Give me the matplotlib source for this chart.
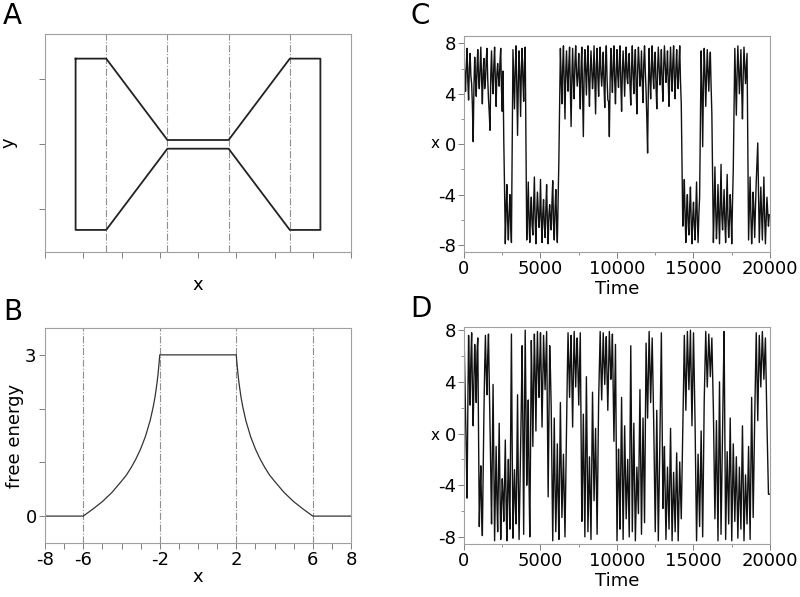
import numpy as np
import matplotlib
matplotlib.use("Agg")
import matplotlib.pyplot as plt

# ---- data ----
# panel A: channel outline (x, y), walls at wide and narrow parts
chan_x = [-8, -6, -2, 2, 6, 8, 8, 6, 2, -2, -6, -8, -8]
chan_y = [6.6, 6.6, 0.33, 0.33, 6.6, 6.6, -6.6, -6.6, -0.34, -0.34, -6.6, -6.6, 6.6]
guide_x = [-6, -2, 2, 6]

# panel B: free energy
fe_x = [-8, -6, -5.5, -5, -4.5, -4, -3.75, -3.5, -3.25, -3, -2.75, -2.5, -2.35, -2.25,
        -2.15, -2.1, -2.05, -2.02, -2,
        2, 2.02, 2.05, 2.1, 2.15, 2.25, 2.35, 2.5, 2.75, 3, 3.25, 3.5, 3.75, 4, 4.5, 5,
        5.5, 6, 8]
fe_y = [0, 0, 0.13, 0.27, 0.44, 0.65, 0.76, 0.90, 1.06, 1.25, 1.48, 1.78, 2.02, 2.21,
        2.46, 2.61, 2.79, 2.91, 3.0,
        3.0, 2.91, 2.79, 2.61, 2.46, 2.21, 2.02, 1.78, 1.48, 1.25, 1.06, 0.90, 0.76, 0.65,
        0.44, 0.27, 0.13, 0, 0]

# panels C and D: trajectories, values at t = 0, 100, ... and at t = 50, 150, ...
t_even = np.arange(0, 20000, 100)
t_odd = np.arange(50, 20000, 100)

traj_c = [
    6.5, 4.2, 7.6, 3.5, 7.2, 4.8, 0.2, 6.9, 3.8, 7.5,
    4.4, 7.7, 3.2, 6.8, 5.0, 7.6, 3.6, 1.1, 7.4, 4.0,
    7.7, 3.0, 6.4, 4.6, 7.6, 2.6, 0.3, -7.9, -3.2, -7.6,
    -4.0, -7.8, 7.5, 2.8, 7.8, 0.7, 7.4, 2.2, 7.6, 3.4,
    7.7, -7.6, -3.0, -7.8, -4.2, -7.2, -2.6, -7.9, -3.8, -6.6,
    -2.8, -7.8, -4.4, -7.4, -3.2, -7.9, -4.8, -6.8, -2.9, -7.6,
    -3.6, -7.8, -1.3, 7.6, 3.2, 7.8, 2.0, 7.4, 4.2, 7.7,
    1.4, 7.6, 3.6, 7.8, 4.6, 7.2, 2.8, 7.7, 0.6, 7.5,
    3.9, 7.8, 3.0, 7.4, 4.4, 7.8, 2.4, 7.6, 3.8, 7.7,
    4.6, 7.3, 2.9, 7.8, 3.5, 0.6, 7.6, 4.1, 7.8, 3.2,
    7.5, 4.5, 7.8, 2.6, 7.4, 3.8, 7.7, 4.8, 7.2, 3.1,
    7.8, 4.0, 7.5, 2.4, 7.7, 4.6, 7.4, 3.3, 7.8, 4.2,
    -0.7, 7.6, 3.6, 7.8, 4.4, 7.3, 2.8, 7.7, 4.7, 7.5,
    3.4, 7.8, 4.9, 7.4, 3.0, 7.7, 4.2, 7.8, 3.6, 7.5,
    4.4, 7.8, 3.2, -6.5, -2.8, -7.8, -4.0, -7.2, -3.4, -7.9,
    -4.6, -7.6, -3.0, -7.8, -4.2, 7.4, -0.2, 7.6, 3.0, 7.5,
    4.2, 7.3, 2.4, -7.8, -1.8, -7.5, -3.2, -7.9, -1.6, -6.8,
    -3.6, -7.8, -2.4, -7.4, -4.0, -7.9, -2.0, 7.6, 2.3, 7.8,
    4.0, 7.5, 2.0, 7.7, 4.8, 7.2, -7.6, -2.6, -7.9, -3.8,
    -7.4, -3.0, 0.1, -7.8, -3.4, -7.6, -2.6, -7.9, -4.2, -6.5,
]
traj_c_half = [
    5.6, 6.3, 5.0, 6.1, 5.4, 3.0, 4.6, 5.2, 6.0, 5.3,
    6.0, 5.1, 5.8, 4.4, 6.6, 5.2, 2.5, 5.5, 5.1, 6.2,
    5.0, 5.6, 5.3, 6.5, 4.4, 5.8, -3.5, -5.0, -6.1, -5.4,
    -6.3, 0.0, 5.0, 6.0, 4.6, 4.8, 5.3, 5.9, 5.1, 6.4,
    0.0, -5.6, -6.1, -5.3, -6.4, -5.0, -6.0, -5.5, -5.2, -5.7,
    -6.0, -5.5, -6.4, -5.1, -6.2, -5.6, -5.9, -4.6, -6.3, -5.2,
    -6.1, -4.4, 3.0, 5.2, 6.1, 4.9, 5.7, 5.4, 6.3, 4.6,
    5.3, 5.0, 6.4, 5.8, 5.6, 4.8, 6.0, 4.2, 5.5, 5.9,
    6.2, 5.1, 5.7, 6.0, 5.4, 4.9, 6.2, 5.3, 6.1, 5.6,
    5.8, 4.7, 6.3, 5.2, 3.4, 5.0, 5.6, 6.3, 5.0, 5.9,
    5.4, 6.5, 4.8, 5.7, 5.9, 6.2, 5.3, 6.4, 4.6, 6.0,
    5.5, 6.2, 4.7, 5.9, 6.3, 5.4, 5.0, 6.4, 5.8, 2.0,
    4.5, 5.2, 6.0, 5.5, 6.4, 4.6, 5.8, 6.2, 5.7, 5.0,
    6.1, 6.4, 5.7, 4.9, 5.8, 5.6, 6.5, 5.2, 6.0, 5.4,
    6.3, 5.0, -2.0, -4.9, -5.7, -5.2, -6.3, -5.0, -6.2, -5.8,
    -6.4, -5.3, -6.0, -5.6, 1.5, 4.2, 4.8, 5.6, 5.4, 5.9,
    6.0, 4.6, -3.0, -5.2, -5.0, -5.9, -5.4, -4.9, -5.6, -5.1,
    -6.2, -5.0, -5.8, -6.1, -5.4, -4.6, 2.5, 5.0, 5.6, 6.0,
    5.8, 4.4, 5.5, 6.2, 6.0, 0.0, -5.0, -5.6, -6.2, -5.4,
    -5.0, -1.5, -4.0, -5.6, -5.4, -5.2, -5.8, -6.0, -5.3, -5.6,
]

traj_d = [
    7.8, 1.5, -5.0, 7.6, 2.2, 7.8, 0.6, 6.9, 2.4, 7.4,
    -7.2, -2.5, -7.9, 1.4, 7.6, 3.0, 7.7, 1.2, -7.0, 3.8,
    -8.3, -1.0, -7.6, 0.8, -8.2, -3.5, -6.8, -0.5, -8.3, -2.0,
    -7.4, 7.7, -8.1, -2.8, -7.0, 3.0, -8.2, -1.5, 6.8, -7.8,
    8.0, -4.0, 2.6, -8.0, 7.2, -1.0, 7.7, 0.2, 7.9, 2.8,
    7.8, 0.5, 7.6, 3.4, 7.9, -4.9, 6.8, 2.0, -8.3, 1.2,
    -7.6, -0.8, -8.2, 2.4, -6.5, -1.6, -8.0, 0.6, 7.8, 2.8,
    7.6, 0.5, 7.9, 3.6, 7.4, 2.2, 7.8, -6.8, 1.5, -8.0,
    4.4, -7.6, -1.8, -8.2, 3.2, -5.2, 0.4, -7.8, 2.6, 7.9,
    2.6, 7.8, 3.8, 7.5, 1.8, 7.9, 4.2, 7.7, -0.6, 6.9,
    -8.3, -1.2, -7.4, 2.8, -8.2, 0.6, -6.6, -2.0, -8.0, 6.8,
    -7.6, 0.8, -8.3, -2.6, -6.2, 3.4, -7.8, 1.2, -6.9, 7.0,
    1.2, 7.9, 2.4, 7.4, 0.8, -7.6, 1.8, -8.3, -0.8, 7.8,
    -5.8, -1.0, -8.2, -2.6, -7.4, 0.4, -8.3, -3.0, -7.6, -1.5,
    -8.3, -2.2, -6.6, 0.2, 7.6, 1.8, 7.9, 3.4, 8.0, 0.6,
    7.8, 1.0, -8.3, -1.6, -7.2, 0.2, -8.0, 2.5, 7.9, 3.6,
    7.7, 4.4, 7.4, 1.8, -6.6, 1.0, -8.3, 4.0, -7.8, 0.6,
    7.9, -8.2, -1.4, -7.0, 1.2, -8.3, -0.8, -6.8, -1.8, -8.1,
    -2.6, -7.4, 0.6, -8.3, -3.2, -7.0, -1.0, -8.2, 2.8, -6.5,
    1.2, 7.8, 1.0, 7.6, 3.6, 7.9, 4.2, 7.4, 0.8, -4.7,
]
traj_d_half = [
    4.8, -1.5, 2.0, 4.6, 5.8, 3.5, 4.2, 5.0, 6.2, 0.5,
    -4.4, -6.0, -3.2, 5.0, 4.8, 6.0, 4.2, -3.0, -1.6, -2.5,
    -4.6, -5.0, -3.4, -4.2, -5.6, -4.8, -3.6, -5.2, -4.4, -5.0,
    0.2, -1.0, -5.0, -5.4, -2.6, -3.8, -4.6, 2.5, 0.0, 1.0,
    2.2, -1.4, -3.6, -1.0, 3.6, 3.8, 4.6, 4.8, 5.0, 5.6,
    4.4, 4.2, 5.4, 5.8, 1.2, 1.0, 4.8, -3.5, -3.6, -4.0,
    -4.6, -4.8, -3.2, -2.4, -4.2, -5.0, -3.8, 4.4, 5.4, 5.6,
    4.0, 4.6, 5.6, 5.8, 4.6, 5.2, 0.2, -3.0, -3.6, -1.6,
    -2.0, -4.8, -5.2, -2.6, -1.0, -2.4, -4.0, -2.6, 5.4, 5.0,
    5.4, 5.6, 5.8, 4.4, 5.0, 6.0, 5.6, 3.4, 3.0, -1.0,
    -4.8, -4.0, -2.6, -3.0, -4.0, -3.0, -4.4, -5.0, -0.8, -0.6,
    -3.6, -4.0, -5.4, -4.4, -1.6, -2.2, -3.2, -2.8, 0.0, 4.0,
    4.6, 5.0, 4.8, 4.2, -3.4, -3.0, -3.2, -4.6, 3.4, 0.8,
    -3.2, -4.6, -5.4, -5.0, -3.6, -4.0, -5.6, -5.2, -4.6, -5.0,
    -5.2, -4.4, -3.2, 3.8, 4.6, 4.8, 5.6, 5.6, 4.2, 4.2,
    4.4, -3.6, -5.0, -4.4, -3.6, -3.8, -2.8, 5.2, 5.8, 5.6,
    6.0, 5.8, 4.6, -2.4, -2.8, -3.6, -2.2, -1.8, -3.6, 4.2,
    -0.2, -4.8, -4.2, -2.8, -3.6, -4.6, -3.8, -4.4, -5.0, -5.4,
    -5.0, -3.4, -3.8, -5.8, -5.0, -4.0, -4.6, -2.6, -1.8, -2.6,
    4.6, 4.4, 4.2, 5.6, 5.8, 6.0, 5.8, 4.0, -2.0, -4.7,
]

plt.rcParams['font.family'] = ['DejaVu Sans']
plt.rcParams['axes.unicode_minus'] = False
fig = plt.figure(figsize=(8, 5.97), dpi=100)

spine_col = '#a0a0a0'


def style(ax):
    for s in ax.spines.values():
        s.set_color(spine_col)
        s.set_linewidth(0.8)
    ax.tick_params(which='both', direction='out', color='#808080', labelsize=13, pad=2)
    ax.tick_params(which='major', length=4, width=0.7)
    ax.tick_params(which='minor', length=2.5, width=0.6)


def merge(ta, va, tb, vb):
    # put the two sample sets in time order
    t = np.concatenate([ta, tb])
    v = np.concatenate([va, vb])
    order = np.argsort(t, kind='stable')
    return t[order], v[order]


# A
axA = fig.add_axes([0.05625, 0.5779, 0.3825, 0.3652])
style(axA)
for gx in guide_x:
    axA.axvline(gx, color='#909090', lw=0.8, ls='-.')
axA.plot(chan_x, chan_y, color='#222222', lw=1.3)
axA.set_xlim(-10, 10)
axA.set_ylim(-8.3, 8.5)
axA.set_xticks(np.arange(-10, 10.1, 2.5))
axA.set_yticks([-5, 0, 5])
axA.set_xticklabels([])
axA.set_yticklabels([])
axA.set_xlabel('x', fontsize=13, labelpad=11)
axA.set_ylabel('y', fontsize=13, labelpad=14)

# B
axB = fig.add_axes([0.05625, 0.0905, 0.3825, 0.3601])
style(axB)
for gx in guide_x:
    axB.axvline(gx, color='#909090', lw=0.8, ls='-.')
axB.plot(fe_x, fe_y, color='#333333', lw=0.9)
axB.set_xlim(-8, 8)
axB.set_ylim(-0.5, 3.5)
axB.set_xticks(np.arange(-8, 9, 1))
axB.set_xticklabels([str(v) if v in (-8, -6, -2, 2, 6, 8) else '' for v in range(-8, 9)])
axB.set_yticks([0, 1, 2, 3])
axB.set_yticklabels(['0', '', '', '3'])
axB.set_xlabel('x', fontsize=13, labelpad=-1)
axB.set_ylabel('free energy', fontsize=13, labelpad=1)

# C and D
panels = [([0.58, 0.5779, 0.3825, 0.3618], traj_c, traj_c_half, -8.55, 8.58),
          ([0.58, 0.0888, 0.3825, 0.3635], traj_d, traj_d_half, -8.55, 8.25)]
for rect, tr, tr_half, ylo, yhi in panels:
    ax = fig.add_axes(rect)
    style(ax)
    t, v = merge(t_even, tr, t_odd, tr_half)
    ax.plot(t, v, color='#111111', lw=1.0)
    ax.set_xlim(0, 20000)
    ax.set_ylim(ylo, yhi)
    ax.set_xticks([0, 5000, 10000, 15000, 20000])
    ax.set_xticks(np.arange(2500, 20000, 5000), minor=True)
    ax.set_yticks([-8, -4, 0, 4, 8])
    ax.set_yticks([-6, -2, 2, 6], minor=True)
    ax.set_xlabel('Time', fontsize=13, labelpad=1)
    ax.set_ylabel('x', fontsize=11, rotation=0, labelpad=2, va='center')

# panel letters
for lx, ly, txt in [(0.004, 0.973, 'A'), (0.004, 0.477, 'B'), (0.513, 0.973, 'C'), (0.513, 0.482, 'D')]:
    fig.text(lx, ly, txt, fontsize=20, va='center', ha='left')

fig.savefig('out.png', dpi=100)
